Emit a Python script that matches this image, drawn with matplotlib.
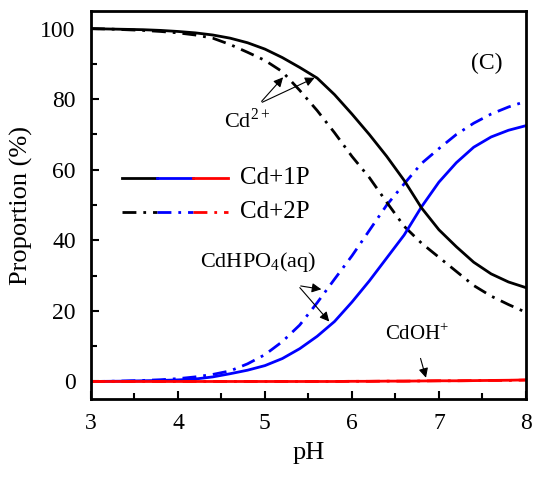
import matplotlib
matplotlib.use("Agg")
import matplotlib.pyplot as plt
import numpy as np

plt.rcParams['font.family'] = ['Liberation Serif', 'DejaVu Serif']
plt.rcParams['mathtext.fontset'] = 'custom'
plt.rcParams['mathtext.rm'] = 'Liberation Serif'

ph = [3.0, 3.2, 3.4, 3.6, 3.8, 4.0, 4.2, 4.4, 4.6, 4.8, 5.0, 5.2, 5.4, 5.6, 5.8,
      6.0, 6.2, 6.4, 6.6, 6.8, 7.0, 7.2, 7.4, 7.6, 7.8, 8.0]

# Cd+1P
cd_1p   = [100, 99.9, 99.8, 99.7, 99.5, 99.2, 98.8, 98.2, 97.3, 96.0, 94.2, 91.8, 89.0,
           86.0, 81.3, 75.8, 70.0, 63.8, 57.0, 49.2, 43.0, 38.2, 33.8, 30.5, 28.2, 26.6]
hpo4_1p = [0.0, 0.05, 0.1, 0.2, 0.3, 0.45, 0.7, 1.3, 2.2, 3.2, 4.5, 6.5, 9.3,
           12.8, 17.0, 22.5, 28.5, 35.0, 41.5, 49.5, 56.5, 62.0, 66.4, 69.3, 71.2, 72.5]
oh_1p   = [0.0, 0.0, 0.0, 0.0, 0.0, 0.0, 0.0, 0.0, 0.0, 0.0, 0.0, 0.0, 0.0,
           0.0, 0.0, 0.05, 0.05, 0.1, 0.1, 0.15, 0.2, 0.2, 0.25, 0.3, 0.35, 0.45]
# Cd+2P
cd_2p   = [100, 99.9, 99.7, 99.5, 99.2, 98.8, 98.2, 97.3, 95.5, 93.3, 91.0, 87.8, 82.5,
           76.8, 70.5, 63.8, 57.8, 50.8, 44.0, 39.2, 35.2, 31.2, 27.2, 24.2, 21.8, 19.6]
hpo4_2p = [0.0, 0.05, 0.15, 0.3, 0.5, 0.8, 1.3, 2.0, 3.0, 5.0, 7.6, 11.3, 16.0,
           22.3, 29.0, 35.6, 42.8, 50.0, 56.0, 61.8, 66.0, 70.0, 73.2, 75.8, 77.8, 79.4]
oh_2p   = [0.0, 0.0, 0.0, 0.0, 0.0, 0.0, 0.0, 0.0, 0.0, 0.0, 0.0, 0.0, 0.0,
           0.0, 0.0, 0.05, 0.05, 0.1, 0.1, 0.15, 0.2, 0.2, 0.25, 0.3, 0.3, 0.4]

series_labels = ['Cd+1P', 'Cd+2P']
xticks = [3, 4, 5, 6, 7, 8]
yticks = [0, 20, 40, 60, 80, 100]

fig = plt.figure(figsize=(5.35, 4.78), dpi=100)
ax = fig.add_axes([0.170, 0.165, 0.813, 0.812])

dd = (0, (5, 2.5, 1, 2.5))
lw = 2.0
ax.plot(ph, hpo4_2p, color='#0000ff', lw=lw, ls=dd)
ax.plot(ph, cd_2p, color='black', lw=lw, ls=dd)
ax.plot(ph, hpo4_1p, color='#0000ff', lw=lw)
ax.plot(ph, cd_1p, color='black', lw=lw)
ax.plot(ph, oh_2p, color='red', lw=lw, ls=dd)
ax.plot(ph, oh_1p, color='red', lw=lw)

ax.set_xlim(3, 8)
ax.set_ylim(-5, 105)
ax.set_xticks(xticks)
ax.set_yticks(yticks)
ax.set_xticks(np.arange(3.5, 8, 1.0), minor=True)
ax.set_yticks(np.arange(10, 100, 20), minor=True)
ax.tick_params(which='both', direction='in', labelsize=17, width=1.5)
ax.tick_params(which='major', length=6)
ax.tick_params(which='minor', length=4)
ax.tick_params(axis='x', which='both', pad=10)
ax.tick_params(axis='y', which='both', pad=11)
for s in ax.spines.values():
    s.set_linewidth(2)

ax.set_xlabel('pH', fontsize=19, labelpad=6)
ax.set_ylabel('Proportion (%)', fontsize=19, labelpad=5)

# Legend built from segments
tr = ax.transAxes
colors = ['black', '#0000ff', 'red']
rows = [(0.570, '-'), (0.482, dd)]
x0, seg = 0.072, 0.081
for (yy, ls), lab in zip(rows, series_labels):
    for i, c in enumerate(colors):
        ax.plot([x0 + i * seg, x0 + (i + 1) * seg], [yy, yy], color=c, lw=lw, ls=ls,
                transform=tr, clip_on=False)
    ax.text(x0 + 3 * seg + 0.027, yy, lab, transform=tr, fontsize=18, va='center', ha='left')

ax.text(7.55, 90, '(C)', fontsize=17, ha='center', va='center')

ap = dict(arrowstyle='-|>', color='black', lw=0.8, mutation_scale=14)
ax.text(4.53, 74, r'Cd$^{2+}$', fontsize=16, ha='left', va='center')
ax.annotate('', xy=(5.23, 86.8), xytext=(4.94, 78.8), arrowprops=ap)
ax.annotate('', xy=(5.60, 86.4), xytext=(4.94, 78.8), arrowprops=ap)

ax.text(4.25, 34, r'CdHPO$_4$(aq)', fontsize=16, ha='left', va='center')
ax.annotate('', xy=(5.68, 26.0), xytext=(5.38, 27.2), arrowprops=ap)
ax.annotate('', xy=(5.76, 16.4), xytext=(5.38, 27.2), arrowprops=ap)

ax.text(6.75, 13.5, r'CdOH$^{+}$', fontsize=15, ha='center', va='center')
ax.annotate('', xy=(6.86, 0.3), xytext=(6.78, 7.3), arrowprops=ap)

fig.savefig('out.png', dpi=100)
